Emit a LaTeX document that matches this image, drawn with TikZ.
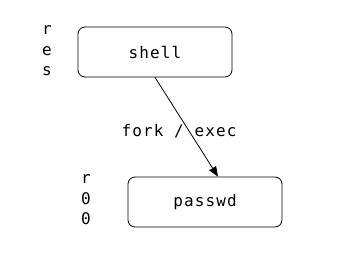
\documentclass[tikz,border=0pt]{standalone}
\usepackage{fontspec}
\setmonofont[LetterSpace=7]{DejaVu Sans Mono}
\usetikzlibrary{arrows.meta,calc}
\begin{document}
\begin{tikzpicture}[x=1pt,y=1pt,
  proc/.style={draw,rounded corners=7pt,minimum width=154pt,minimum height=50pt,line width=0.8pt,font=\ttfamily\fontsize{16}{16}\selectfont},
  lbl/.style={font=\ttfamily\fontsize{16}{16}\selectfont},
  vlbl/.style={font=\ttfamily\fontsize{16}{20.5}\selectfont,align=center,inner sep=0pt}]
\useasboundingbox (0,0) rectangle (338,277);
\node[proc] (shell) at (155,225) {shell};
\node[proc] (passwd) at (205,75) {passwd};
\node[vlbl] (uid1) at (47,226) {r\\e\\s};
\node[vlbl] (uid2) at (86,77) {r\\0\\0};
\draw[line width=0.8pt,-{Triangle[length=10pt,width=8pt]}] (shell.south) -- ($(passwd.north)+(13,0)$);
\node[lbl] (lab) at (179,146) {fork / exec};
\end{tikzpicture}
\end{document}
